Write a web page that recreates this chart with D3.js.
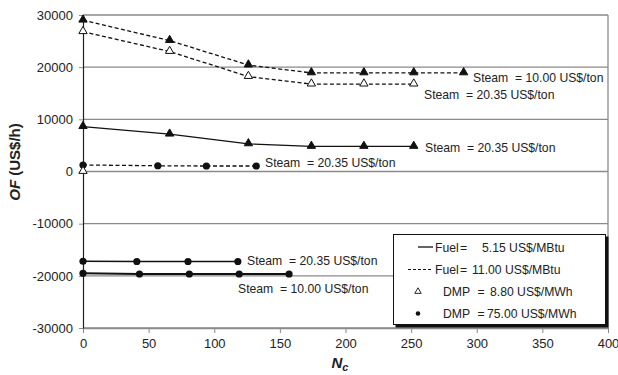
<!DOCTYPE html>
<html><head><meta charset="utf-8">
<script src="https://cdn.jsdelivr.net/npm/d3@7"></script>
<style>body{margin:0;background:#fff}svg{display:block;font-family:"Liberation Sans",Arial,sans-serif}</style>
</head><body><svg id="c" width="618" height="375"></svg>
<script>
// ---- data ----
const xTicks = [0, 50, 100, 150, 200, 250, 300, 350, 400];
const yTicks = [-30000, -20000, -10000, 0, 10000, 20000, 30000];

const aX = [0, 66, 126, 174, 214, 252, 290];
const aY = [29000, 25100, 20400, 18900, 18900, 18900, 18900];
const bX = [0, 66, 126, 174, 214, 252];
const bY = [26800, 23000, 18200, 16750, 16750, 16750];
const cX = [0, 66, 126, 174, 214, 252];
const cY = [8600, 7150, 5300, 4800, 4800, 4800];
const dX = [0, 57, 94, 132];
const dY = [1250, 1100, 1050, 1050];
const eX = [0, 41, 80, 118];
const eY = [-17200, -17250, -17250, -17250];
const fX = [0, 43, 81, 119, 157];
const fY = [-19500, -19650, -19650, -19650, -19650];
const zX = [0];
const zY = [0];

const steamLabels = ["Steam  = 10.00 US$/ton", "Steam  = 20.35 US$/ton"];
const legendNames = ["Fuel", "Fuel", "DMP", "DMP"];
const legendValues = ["5.15 US$/MBtu", "11.00 US$/MBtu", "8.80 US$/MWh", "75.00 US$/MWh"];

// ---- layout ----
const svg = d3.select("#c");
const L = 83, R = 608, T = 15, B = 328;
const x = d3.scaleLinear().domain([0, 400]).range([L, R]);
const y = d3.scaleLinear().domain([-30000, 30000]).range([B, T]);
const grid = "#8a8a8a";
const FS = 12.2;

// grid lines
svg.append("g").selectAll("line").data(yTicks).join("line")
  .attr("x1", L).attr("x2", R).attr("y1", d => y(d)).attr("y2", d => y(d))
  .attr("stroke", grid).attr("stroke-width", 1.3);
svg.append("line").attr("x1", R).attr("x2", R).attr("y1", T).attr("y2", B)
  .attr("stroke", grid).attr("stroke-width", 1.3);

// axes
const xa = svg.append("g").attr("transform", `translate(0,${B})`)
  .call(d3.axisBottom(x).tickValues(xTicks).tickSize(5).tickPadding(6).tickSizeOuter(0));
xa.select(".domain").attr("stroke", grid).attr("stroke-width", 1.5);
xa.selectAll(".tick line").attr("stroke", grid);
xa.selectAll("text").attr("font-size", 13).attr("fill", "#222").attr("font-family", "Liberation Sans, Arial");

const ya = svg.append("g").attr("transform", `translate(${L},0)`)
  .call(d3.axisLeft(y).tickValues(yTicks).tickSize(4).tickPadding(6).tickSizeOuter(0).tickFormat(d => String(d)));
ya.select(".domain").attr("stroke", "#222").attr("stroke-width", 1.2);
ya.selectAll(".tick line").attr("stroke", grid);
ya.selectAll("text").attr("font-size", 13).attr("fill", "#222").attr("font-family", "Liberation Sans, Arial");

// axis titles
const yt = svg.append("text").attr("transform", "translate(20,162) rotate(-90)")
  .attr("text-anchor", "middle").attr("font-size", 15).attr("font-weight", "bold").attr("fill", "#222");
yt.append("tspan").attr("font-style", "italic").text("OF");
yt.append("tspan").text(" (US$/h)");
const xt = svg.append("text").attr("x", 340).attr("y", 368).attr("text-anchor", "middle")
  .attr("font-size", 15).attr("font-weight", "bold").attr("font-style", "italic").attr("fill", "#222");
xt.append("tspan").text("N");
xt.append("tspan").attr("font-size", 11).attr("dy", 3).text("c");

// series
const line = d3.line().x(d => x(d[0])).y(d => y(d[1]));
const zip = (xs, ys) => xs.map((v, i) => [v, ys[i]]);
const tri = d3.symbol().type(d3.symbolTriangle).size(30);
const triS = d3.symbol().type(d3.symbolTriangle).size(18);

function series(xs, ys, dashed, marker, width) {
  const pts = zip(xs, ys);
  if (pts.length > 1) svg.append("path").attr("d", line(pts)).attr("fill", "none")
    .attr("stroke", "#111").attr("stroke-width", width || 1.3)
    .attr("stroke-dasharray", dashed ? "4,2.5" : null);
  const g = svg.append("g");
  pts.forEach(p => {
    if (marker === "circle") g.append("circle").attr("cx", x(p[0])).attr("cy", y(p[1])).attr("r", 3.6).attr("fill", "#111");
    else g.append("path").attr("d", tri()).attr("transform", `translate(${x(p[0])},${y(p[1]) - 0.5})`)
      .attr("fill", marker === "tri" ? "#111" : "#fff").attr("stroke", "#111").attr("stroke-width", 1);
  });
}
series(aX, aY, true, "tri");
series(bX, bY, true, "otri");
series(cX, cY, false, "tri");
series(dX, dY, true, "circle");
series(eX, eY, false, "circle");
series(fX, fY, false, "circle", 2);
series(zX, zY, false, "otri");

// steam labels
const lbl = (t, lx, by) => svg.append("text").attr("x", lx).attr("y", by).attr("font-size", FS)
  .attr("fill", "#222").style("white-space", "pre").text(t);
lbl(steamLabels[0], 473, 82);
lbl(steamLabels[1], 424, 99);
lbl(steamLabels[1], 425, 152);
lbl(steamLabels[1], 265, 167);
lbl(steamLabels[1], 247, 265);
lbl(steamLabels[0], 238, 293);

// legend
svg.append("rect").attr("x", 395.5).attr("y", 236.5).attr("width", 213).attr("height", 91).attr("fill", "#111");
svg.append("rect").attr("x", 393.5).attr("y", 234.5).attr("width", 212).attr("height", 90)
  .attr("fill", "#fff").attr("stroke", "#111").attr("stroke-width", 1);
const rows = [247, 269.5, 291.5, 313.5];
svg.append("line").attr("x1", 418).attr("x2", 433).attr("y1", rows[0]).attr("y2", rows[0]).attr("stroke", "#111").attr("stroke-width", 1.3);
svg.append("line").attr("x1", 408).attr("x2", 433).attr("y1", rows[1]).attr("y2", rows[1]).attr("stroke", "#111").attr("stroke-width", 1.1).attr("stroke-dasharray", "3,2");
svg.append("path").attr("d", triS()).attr("transform", `translate(418,${rows[2]})`).attr("fill", "#fff").attr("stroke", "#111").attr("stroke-width", 0.9);
svg.append("circle").attr("cx", 418).attr("cy", rows[3]).attr("r", 2.3).attr("fill", "#111");
const nameX = [435, 435, 443, 443];
const eqX = [460, 460, 477.5, 477.5];
const valX = [482, 472, 490, 487];
rows.forEach((r, i) => {
  const t = (tx, s) => svg.append("text").attr("x", tx).attr("y", r + 4.5).attr("font-size", FS).attr("fill", "#222").text(s);
  t(nameX[i], legendNames[i]);
  t(eqX[i], "=");
  t(valX[i], legendValues[i]);
});
</script></body></html>
